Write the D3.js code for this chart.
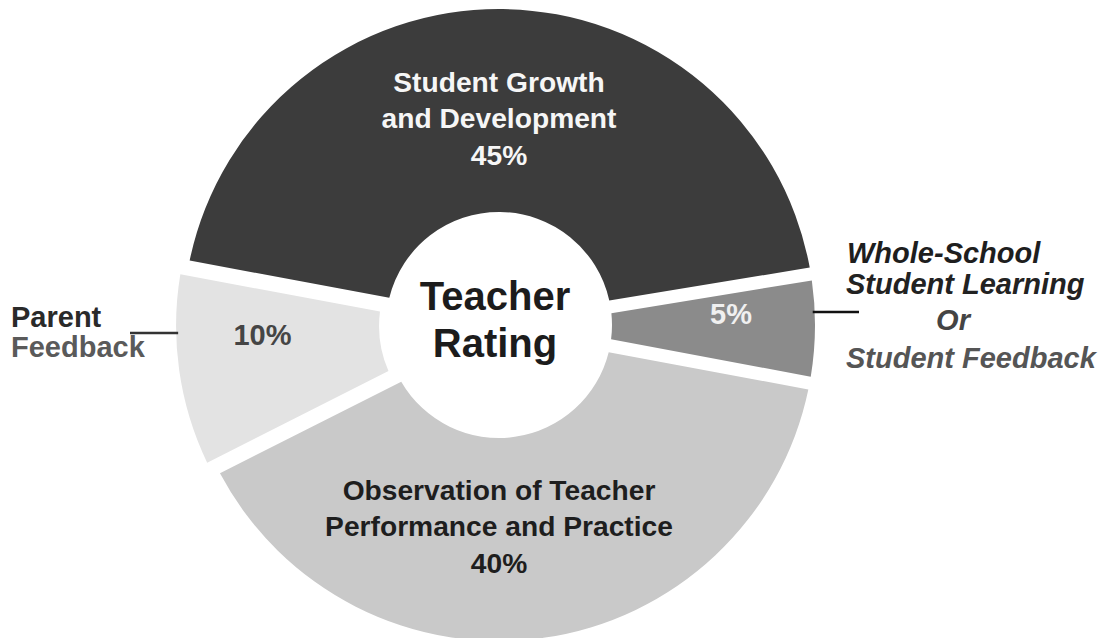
<!DOCTYPE html>
<html>
<head>
<meta charset="utf-8">
<script src="https://cdn.jsdelivr.net/npm/d3@7/dist/d3.min.js"></script>
<style>
  html, body { margin: 0; padding: 0; background: #ffffff; }
  svg { display: block; }
  text { font-family: "Liberation Sans", Arial, sans-serif; }
</style>
</head>
<body>
<svg id="chart" width="1107" height="638"></svg>
<script>
// ---- data ----
const categories = [
  "Student Growth and Development",
  "Whole-School Student Learning Or Student Feedback",
  "Observation of Teacher Performance and Practice",
  "Parent Feedback"
];
const values = [45, 5, 40, 10];
const insideLabels = [
  ["Student Growth", "and Development", "45%"],
  ["5%"],
  ["Observation of Teacher", "Performance and Practice", "40%"],
  ["10%"]
];
const centerTitle = ["Teacher", "Rating"];
const leftCallout = ["Parent", "Feedback"];
const rightCallout = ["Whole-School", "Student Learning", "Or", "Student Feedback"];

// ---- styles ----
const sliceColors = ["#3c3c3c", "#8b8b8b", "#c9c9c9", "#e3e3e3"];
const labelColors = ["#f6f6f6", "#f0f0f0", "#1e1e1e", "#454545"];
const explode = [0, 0, 0, 7];

const W = 1107, H = 638;
const cx = 499, cy = 325;
const R = 316, r0 = 113;
const svg = d3.select("#chart");
const g = svg.append("g").attr("transform", `translate(${cx},${cy})`);

const start = -79.4 * Math.PI / 180;
const pie = d3.pie().sort(null).value(d => d)
  .startAngle(start).endAngle(start + 2 * Math.PI)
  .padAngle(13 / R);
const arcs = pie(values);

const arc = d3.arc().innerRadius(r0).outerRadius(R).padRadius(R);
const mid = d => (d.startAngle + d.endAngle) / 2;
const off = (d, i) => [Math.sin(mid(d)) * explode[i], -Math.cos(mid(d)) * explode[i]];

g.selectAll("path.slice").data(arcs).join("path")
  .attr("class", "slice")
  .attr("d", arc)
  .attr("fill", (d, i) => sliceColors[i])
  .attr("transform", (d, i) => `translate(${off(d, i)})`);

// callout rows (relative to centre) for the two small slices
const calloutY = { 1: -13, 3: 8 };

// inside labels
const bigArc = d3.arc().innerRadius(200).outerRadius(220);
const smallArc = d3.arc().innerRadius(222).outerRadius(242);
const bigShift = { 0: 3, 2: -7 };
arcs.forEach((d, i) => {
  const lines = insideLabels[i];
  const multi = lines.length > 1;
  const fs = multi ? 28.2 : 29;
  const lh = 36.5;
  const c = (multi ? bigArc : smallArc).centroid(d);
  const o = off(d, i);
  const x = multi ? 0 : c[0] + o[0];
  const y = multi ? c[1] + bigShift[i] : calloutY[i] + 2;
  const t = g.append("text")
    .attr("text-anchor", "middle")
    .attr("font-weight", "bold")
    .attr("font-size", fs)
    .attr("fill", labelColors[i]);
  lines.forEach((ln, k) => {
    t.append("tspan").attr("x", x)
      .attr("y", y + (k - (lines.length - 1) / 2) * lh + fs * 0.36)
      .text(ln);
  });
});

// center title
const ct = g.append("text").attr("text-anchor", "middle")
  .attr("font-weight", "bold").attr("font-size", 40).attr("fill", "#1c1c1c");
centerTitle.forEach((ln, k) => {
  ct.append("tspan").attr("x", -4).attr("y", -15 + k * 47).text(ln);
});

// callout connectors: horizontal, ending on the slice's outer edge
const edgeX = (i, y) => {
  const d = arcs[i], o = off(d, i);
  const sgn = Math.sin(mid(d)) < 0 ? -1 : 1;
  return sgn * Math.sqrt(R * R - (y - o[1]) * (y - o[1])) + o[0];
};
g.append("line").attr("x1", 130 - cx).attr("x2", edgeX(3, calloutY[3]) + 2)
  .attr("y1", calloutY[3]).attr("y2", calloutY[3])
  .attr("stroke", "#333").attr("stroke-width", 2.5);
g.append("line").attr("x1", edgeX(1, calloutY[1]) - 2).attr("x2", 859 - cx)
  .attr("y1", calloutY[1]).attr("y2", calloutY[1])
  .attr("stroke", "#111").attr("stroke-width", 2.5);

// left callout text
const lt = svg.append("text").attr("font-weight", "bold").attr("font-size", 29);
lt.append("tspan").attr("x", 11).attr("y", 327).attr("fill", "#2a2a2a").text(leftCallout[0]);
lt.append("tspan").attr("x", 11).attr("y", 357).attr("fill", "#5a5a5a").text(leftCallout[1]);

// right callout text
const rt = svg.append("text").attr("font-weight", "bold").attr("font-style", "italic").attr("font-size", 29);
const rPos = [[847, 263, "start", "#1e1e1e"], [846, 294, "start", "#222"], [953, 330, "middle", "#444"], [846, 368, "start", "#555"]];
rightCallout.forEach((ln, k) => {
  rt.append("tspan").attr("x", rPos[k][0]).attr("y", rPos[k][1])
    .attr("text-anchor", rPos[k][2]).attr("fill", rPos[k][3]).text(ln);
});
</script>
</body>
</html>
